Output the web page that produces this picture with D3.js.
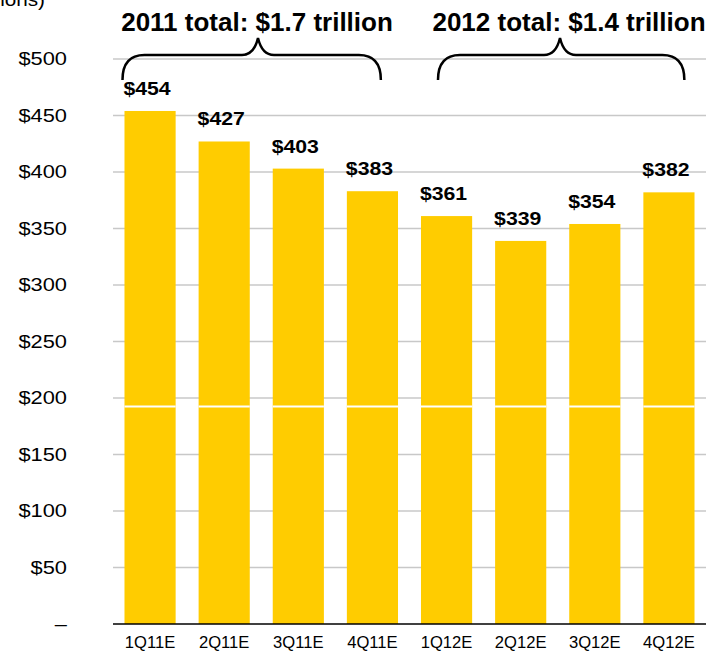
<!DOCTYPE html>
<html><head><meta charset="utf-8">
<script src="https://cdn.jsdelivr.net/npm/d3@7"></script>
<style>body{margin:0;background:#fff}svg{display:block;font-family:"Liberation Sans",Arial,Helvetica,sans-serif}</style>
</head><body>
<script>
const categories = ["1Q11E","2Q11E","3Q11E","4Q11E","1Q12E","2Q12E","3Q12E","4Q12E"];
const values = [454,427,403,383,361,339,354,382];
const valueLabels = ["$454","$427","$403","$383","$361","$339","$354","$382"];
const yTicks = [0,50,100,150,200,250,300,350,400,450,500];
const yTickLabels = ["–","$50","$100","$150","$200","$250","$300","$350","$400","$450","$500"];
const groupTitles = ["2011 total: $1.7 trillion","2012 total: $1.4 trillion"];
const groupFirst = ["1Q11E","1Q12E"];
const groupLast = ["4Q11E","4Q12E"];
const unitLabel = "(US$ in billions)";
const splitValue = 192.5;

const W=711,H=652;
const svg=d3.select("body").append("svg").attr("width",W).attr("height",H);
const x=d3.scaleBand().domain(categories).range([113,706]).paddingInner(0.31).paddingOuter(0.155);
const y=d3.scaleLinear().domain([0,500]).range([624,59]);

// gridlines
svg.append("g").selectAll("line").data(yTicks.filter(d=>d>0)).join("line")
  .attr("x1",113).attr("x2",706).attr("y1",d=>y(d)).attr("y2",d=>y(d))
  .attr("stroke","#c8c8c8").attr("stroke-width",1.5);

// y axis labels
const yAxis=d3.axisLeft(y).tickValues(yTicks).tickFormat((d,i)=>yTickLabels[i]).tickSize(0).tickPadding(0);
const ga=svg.append("g").attr("transform","translate(67,0)").call(yAxis);
ga.select(".domain").remove();
ga.selectAll("text").attr("font-size",18.5).attr("fill","#000")
  .attr("font-family","Liberation Sans,Arial,sans-serif").attr("transform","scale(1.18,1)");

// bars
svg.append("g").selectAll("rect").data(values).join("rect")
  .attr("x",(d,i)=>x(categories[i])).attr("width",x.bandwidth())
  .attr("y",d=>y(d)).attr("height",d=>y(0)-y(d)).attr("fill","#FFCC00");

// white split line across bars
svg.append("g").selectAll("line").data(values).join("line")
  .attr("x1",(d,i)=>x(categories[i])).attr("x2",(d,i)=>x(categories[i])+x.bandwidth())
  .attr("y1",y(splitValue)).attr("y2",y(splitValue)).attr("stroke","#fff").attr("stroke-width",2);

// value labels
svg.append("g").selectAll("text").data(values).join("text")
  .attr("transform",(d,i)=>`translate(${x(categories[i])+x.bandwidth()/2-3},${y(d)-16}) scale(1.18,1)`)
  .attr("text-anchor","middle").attr("font-size",18).attr("font-weight","bold").text((d,i)=>valueLabels[i]);

// baseline axis
svg.append("line").attr("x1",113).attr("x2",706).attr("y1",y(0)).attr("y2",y(0)).attr("stroke","#000").attr("stroke-width",1.5);

// x labels
const xAxis=d3.axisBottom(x).tickSize(0).tickPadding(0);
const gx=svg.append("g").attr("transform","translate(0,"+(y(0)+24)+")").call(xAxis);
gx.select(".domain").remove();
gx.selectAll("text").attr("font-size",16.6).attr("fill","#000").attr("dy",0).attr("font-family","Liberation Sans,Arial,sans-serif");

// unit label (cut off at left, as in the reference)
svg.append("text").attr("transform","translate(45,6) scale(1.15,1)").attr("text-anchor","end").attr("font-size",18).text(unitLabel);

// braces and titles
const braceOff=[[-2,34],[17,41]];
groupTitles.forEach((t,i)=>{
  const x1=x(groupFirst[i])+braceOff[i][0];
  const x2=x(groupLast[i])+braceOff[i][1];
  const xc=i===0?258:560;
  const yE=80,yH=55,yC=38,r=22;
  const p=`M${x1},${yE} Q${x1},${yH} ${x1+r},${yH} L${xc-16},${yH} Q${xc-4},${yH} ${xc},${yC} Q${xc+4},${yH} ${xc+16},${yH} L${x2-r},${yH} Q${x2},${yH} ${x2},${yE}`;
  svg.append("path").attr("d",p).attr("fill","none").attr("stroke","#000").attr("stroke-width",2.5);
  svg.append("text").attr("x",i===0?257:569).attr("y",31).attr("text-anchor","middle")
    .attr("font-size",26).attr("font-weight","bold").text(t);
});
</script>
</body></html>
